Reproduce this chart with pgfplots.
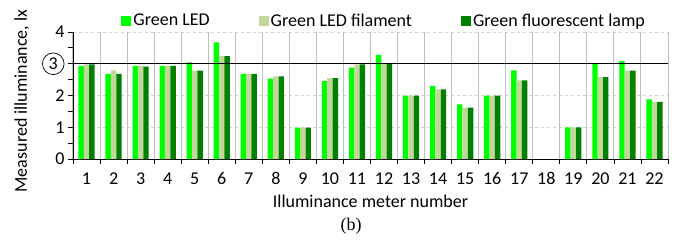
\documentclass[border=0pt]{standalone}
\usepackage{pgfplots}
\pgfplotsset{compat=1.18}
\usepackage{fontspec}
\setmainfont{Carlito}
\newfontfamily\serif{Liberation Serif}
\definecolor{cled}{RGB}{0,255,0}
\definecolor{cfil}{RGB}{196,215,155}
\definecolor{cfl}{RGB}{0,128,0}
\definecolor{gridg}{RGB}{190,190,190}
\newcommand{\circthree}{\tikz[baseline=(c.base)]\node[circle, draw, line width=0.7pt, inner sep=2.4pt](c){3};}
\begin{document}
\begin{tikzpicture}
\begin{axis}[
  scale only axis, width=595pt, height=127pt,
  xmin=0.5, xmax=22.5, ymin=0, ymax=4,
  axis x line*=bottom, axis y line*=left,
  ybar=0pt, bar width=5.4pt,
  xtick={0.5,1.5,...,22.5},
  x tick label as interval,
  xticklabels={1,2,3,4,5,6,7,8,9,10,11,12,13,14,15,16,17,18,19,20,21,22},
  grid=major,
  grid style={gridg, line width=1pt},
  every axis y grid/.append style={dashed, gridg!70},
  ytick={0,1,2,3,4},
  yticklabels={0,1,2,\circthree,4},
  minor ytick={0.5,1.5,2.5,3.5},
  tick align=outside,
  major tick length=5pt, minor tick length=5pt,
  every tick/.append style={black, line width=0.8pt},
  /pgf/number format/assume math mode=true,
  ticklabel style={font=\fontsize{18}{20}\selectfont},
  xticklabel style={yshift=-5pt},
  label style={font=\fontsize{18}{20}\selectfont},
  xlabel={Illuminance meter number},
  ylabel={Measured illuminance, lx},
  xlabel style={at={(axis description cs:0.5,-0.33)}, anchor=center},
  ylabel style={at={(axis description cs:-0.086,0.457)}, anchor=center},
  legend columns=3,
  legend style={draw=none, fill=none, at={(0.523,1.0)}, anchor=south,
    font=\fontsize{18}{20}\selectfont, /tikz/every even column/.append style={column sep=47pt}},
  legend image code/.code={\fill[#1] (0pt,-5pt) rectangle (10pt,5pt);},
]
\pgfplotsinvokeforeach{0.5,1.5,...,22.5}{
  \draw[gridg, line width=1pt] (axis cs:#1,0) -- (axis cs:#1,4);
}
\addplot[fill=cled, draw=none, bar shift=-5.4pt] coordinates {
(1,2.93) (2,2.68) (3,2.93) (4,2.93) (5,3.04) (6,3.67) (7,2.68) (8,2.53) (9,0.99) (10,2.45)
(11,2.88) (12,3.28) (13,2.0) (14,2.3) (15,1.72) (16,2.0) (17,2.79) (19,1.0) (20,3.0) (21,3.08) (22,1.88)};
\addplot[fill=cfil, draw=none, bar shift=0pt] coordinates {
(1,2.98) (2,2.79) (3,2.93) (4,2.93) (5,2.78) (6,3.24) (7,2.68) (8,2.6) (9,0.99) (10,2.55)
(11,2.98) (12,3.0) (13,2.0) (14,2.19) (15,1.62) (16,2.0) (17,2.48) (19,1.0) (20,2.58) (21,2.78) (22,1.8)};
\addplot[fill=cfl, draw=none, bar shift=5.4pt] coordinates {
(1,2.98) (2,2.68) (3,2.91) (4,2.93) (5,2.78) (6,3.24) (7,2.68) (8,2.6) (9,0.99) (10,2.55)
(11,2.98) (12,3.0) (13,2.0) (14,2.19) (15,1.62) (16,2.0) (17,2.48) (19,1.0) (20,2.58) (21,2.78) (22,1.8)};
\legend{Green LED, Green LED filament, Green fluorescent lamp}
\addplot[sharp plot, black, line width=0.8pt, forget plot, bar shift=0pt] coordinates {(0.5,3) (22.5,3)};
\coordinate (O) at (rel axis cs:0,0);
\end{axis}
\foreach \i in {0,...,22} {
  \draw[black, line width=0.8pt] ([xshift=\i*595pt/22]O) -- ++(0,-5pt);
}
\node[font=\serif\fontsize{18}{20}\selectfont] at ([shift={(278pt,-67pt)}]O) {(b)};
\path (O) ++(-73pt,-83pt) rectangle ++(677pt,242pt);
\end{tikzpicture}
\end{document}
